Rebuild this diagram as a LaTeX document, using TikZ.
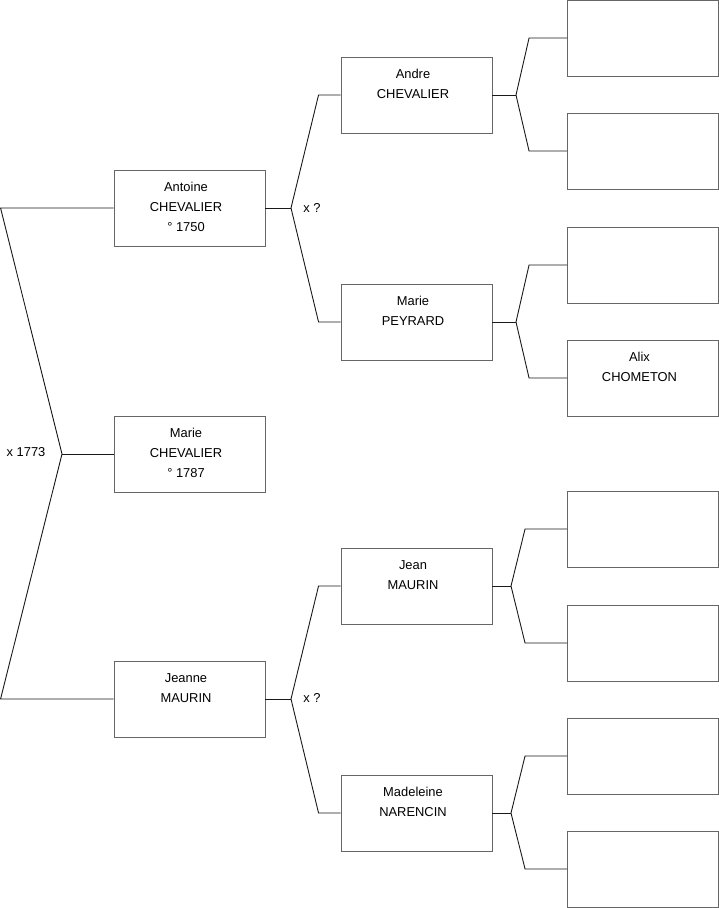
\documentclass[tikz,border=0pt]{standalone}
\usepackage{fontspec}
\setmainfont{Liberation Sans}
\usetikzlibrary{calc}

\begin{document}
\begin{tikzpicture}[x=1pt, y=-1pt,
  person/.style={draw=black!60, line width=0.9pt, minimum width=151pt, minimum height=76pt, inner sep=0pt},
  who/.style={anchor=north, align=center, inner sep=0pt, xshift=-3.5pt, yshift=-12.5pt, font=\fontsize{12.9}{20}\selectfont},
  note/.style={inner sep=0pt, font=\fontsize{12.9}{15}\selectfont},
  tie/.style={draw=black!90, line width=0.9pt}]
\useasboundingbox (0,0) rectangle (719,908);

% generation 1
\node[person] (antoine) at (189.5,208) {};
\node[who] (antoineT) at (antoine.north) {Antoine\\CHEVALIER\\° 1750};
\node[person] (marie) at (189.5,454) {};
\node[who] (marieT) at (marie.north) {Marie\\CHEVALIER\\° 1787};
\node[person] (jeanne) at (189.5,699) {};
\node[who] (jeanneT) at (jeanne.north) {Jeanne\\MAURIN};

% generation 2
\node[person] (andre) at (416.5,95) {};
\node[who] (andreT) at (andre.north) {Andre\\CHEVALIER};
\node[person] (peyrard) at (416.5,322) {};
\node[who] (peyrardT) at (peyrard.north) {Marie\\PEYRARD};
\node[person] (jean) at (416.5,586) {};
\node[who] (jeanT) at (jean.north) {Jean\\MAURIN};
\node[person] (madeleine) at (416.5,813) {};
\node[who] (madeleineT) at (madeleine.north) {Madeleine\\NARENCIN};

% generation 3
\node[person] (g1) at (643,38) {};
\node[person] (g2) at (643,151) {};
\node[person] (g3) at (643,265) {};
\node[person] (alix) at (643,378) {};
\node[who] (alixT) at (alix.north) {Alix\\CHOMETON};
\node[person] (g5) at (643,529) {};
\node[person] (g6) at (643,643) {};
\node[person] (g7) at (643,756) {};
\node[person] (g8) at (643,869) {};

% marriage labels
\node[note] (m1773) at (26,452) {x 1773};
\node[note] (mAntoine) at (312,208) {x ?};
\node[note] (mJeanne) at (312,698) {x ?};

% junctions
\coordinate (jM) at (62,454);
\coordinate (jA) at (291,208);
\coordinate (jJ) at (291,699);
\coordinate (jAndre) at (516,95);
\coordinate (jPeyrard) at (516,322);
\coordinate (jJean) at (511,586);
\coordinate (jMadeleine) at (511,813);

\draw[tie] (marie.west) -- (jM);
\draw[tie] (antoine.west) -- ++(-113,0) -- (jM) -- ($(jeanne.west)+(-113,0)$) -- (jeanne.west);

\draw[tie] (antoine.east) -- (jA);
\draw[tie] (andre.west) -- ++(-22,0) -- (jA) -- ($(peyrard.west)+(-22,0)$) -- (peyrard.west);
\draw[tie] (jeanne.east) -- (jJ);
\draw[tie] (jean.west) -- ++(-22,0) -- (jJ) -- ($(madeleine.west)+(-22,0)$) -- (madeleine.west);

\draw[tie] (andre.east) -- (jAndre);
\draw[tie] (g1.west) -- ++(-38,0) -- (jAndre) -- ($(g2.west)+(-38,0)$) -- (g2.west);
\draw[tie] (peyrard.east) -- (jPeyrard);
\draw[tie] (g3.west) -- ++(-38,0) -- (jPeyrard) -- ($(alix.west)+(-38,0)$) -- (alix.west);
\draw[tie] (jean.east) -- (jJean);
\draw[tie] (g5.west) -- ++(-42,0) -- (jJean) -- ($(g6.west)+(-42,0)$) -- (g6.west);
\draw[tie] (madeleine.east) -- (jMadeleine);
\draw[tie] (g7.west) -- ++(-42,0) -- (jMadeleine) -- ($(g8.west)+(-42,0)$) -- (g8.west);
\end{tikzpicture}
\end{document}
